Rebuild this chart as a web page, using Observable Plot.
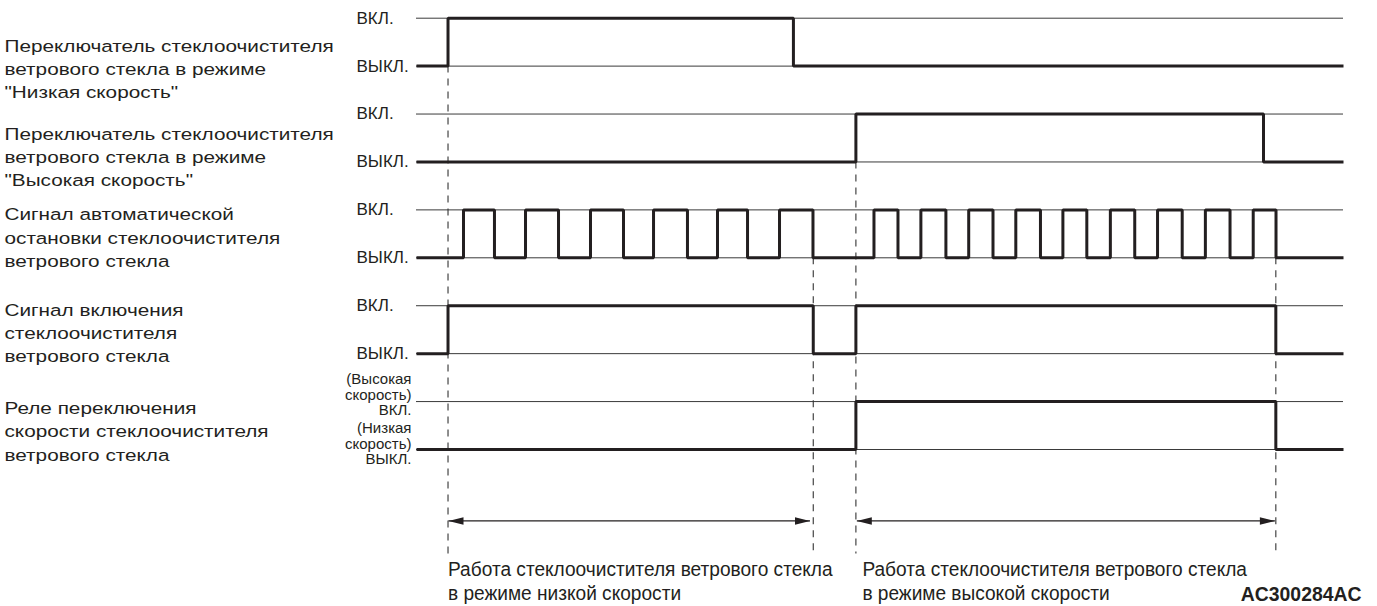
<!DOCTYPE html>
<html><head><meta charset="utf-8">
<script src="https://cdn.jsdelivr.net/npm/d3@7"></script>
<script src="https://cdn.jsdelivr.net/npm/@observablehq/plot@0.6"></script>
<style>body{margin:0;background:#fff}svg{display:block}</style>
</head><body><div id="chart"></div>
<script>
// ---- data ----
const signalNames = [
  "Переключатель стеклоочистителя\nветрового стекла в режиме\n\"Низкая скорость\"",
  "Переключатель стеклоочистителя\nветрового стекла в режиме\n\"Высокая скорость\"",
  "Сигнал автоматической\nостановки стеклоочистителя\nветрового стекла",
  "Сигнал включения\nстеклоочистителя\nветрового стекла",
  "Реле переключения\nскорости стеклоочистителя\nветрового стекла"
];
const signalLabelY = [1.03, 2.87, 4.55, 6.54, 8.59];
const onLabel = "ВКЛ.";
const offLabel = "ВЫКЛ.";
const relayOnLabel = "(Высокая\nскорость)\nВКЛ.";
const relayOffLabel = "(Низкая\nскорость)\nВЫКЛ.";
// time axis 0..100 (arbitrary units); transitions of each signal (start low)
const tStart = 0, tEnd = 100;
const transitions = [
  [3.4, 40.66],
  [47.4, 91.37],
  [5.07, 8.41, 11.76, 15.32, 18.77, 22.33, 25.57, 29.23, 32.47, 35.71, 39.16, 42.77,
   49.35, 51.94, 54.41, 57.11, 59.57, 62.19, 64.65, 67.31, 69.73, 72.31, 74.85, 77.48,
   79.94, 82.6, 85.1, 87.76, 90.26, 92.72],
  [3.4, 42.8, 47.4, 92.7],
  [47.4, 92.7]
];
const markerT = [3.4, 42.8, 47.4, 92.7];
const markerFromRow = [0, 2, 1, 2];
const dashEndY = 11.18;
const arrowStart = [3.45, 47.5];
const arrowEnd = [42.45, 92.6];
const arrowY = 10.49;
const modeLabels = [
  "Работа стеклоочистителя ветрового стекла\nв режиме низкой скорости",
  "Работа стеклоочистителя ветрового стекла\nв режиме высокой скорости"
];
const modeLabelT = [3.4, 48.1];
const modeLabelY = 11.72;
const figureId = "AC300284AC";
const figureIdY = 12.03;

// ---- derived tables ----
const yOf = (row, on) => row * 2 + (on ? 0 : 1);
const stepPts = [];
transitions.forEach((tr, row) => {
  let lvl = 0;
  stepPts.push({row, t: tStart, y: yOf(row, lvl)});
  for (const t of tr) { lvl = 1 - lvl; stepPts.push({row, t, y: yOf(row, lvl)}); }
  stepPts.push({row, t: tEnd, y: yOf(row, lvl)});
});
const refLevels = d3.range(10);
const levelLabels = [];
for (let r = 0; r < 4; r++) {
  levelLabels.push({y: yOf(r, 1), text: onLabel});
  levelLabels.push({y: yOf(r, 0), text: offLabel});
}
const relayLabels = [
  {y: 7.86, text: relayOnLabel},
  {y: 8.88, text: relayOffLabel}
];
const names = signalNames.map((text, i) => ({text, y: signalLabelY[i]}));
const markers = markerT.map((t, i) => ({t, y1: yOf(markerFromRow[i], 0)}));
const periods = arrowStart.map((a, i) => ({a, b: arrowEnd[i], label: modeLabels[i], lt: modeLabelT[i]}));

const headL = {draw(ctx, size) { const r = Math.sqrt(size / Math.PI); ctx.moveTo(0, 0); ctx.lineTo(3 * r, -0.75 * r); ctx.lineTo(3 * r, 0.75 * r); ctx.closePath(); }};
const headR = {draw(ctx, size) { const r = Math.sqrt(size / Math.PI); ctx.moveTo(0, 0); ctx.lineTo(-3 * r, -0.75 * r); ctx.lineTo(-3 * r, 0.75 * r); ctx.closePath(); }};

const ink = "#231f20";
const chart = Plot.plot({
  width: 1377, height: 606, margin: 0,
  x: {domain: [tStart, tEnd], range: [416, 1343], axis: null},
  y: {domain: [0, 9], range: [17.7, 449], axis: null},
  style: {fontFamily: "'Liberation Sans', Arial, Helvetica, sans-serif", color: ink, background: "#fff"},
  marks: [
    Plot.ruleY(refLevels, {y: d => d, x1: tStart, x2: tEnd, stroke: "#3a3a3a", strokeWidth: 1}),
    Plot.ruleX(markers, {x: "t", y1: "y1", y2: dashEndY, stroke: "#333", strokeWidth: 1.1, strokeDasharray: "7,6"}),
    Plot.line(stepPts, {x: "t", y: "y", z: "row", curve: "step-after", stroke: ink, strokeWidth: 3, strokeLinejoin: "miter", strokeLinecap: "butt"}),
    Plot.link(periods, {x1: "a", x2: "b", y1: arrowY, y2: arrowY, stroke: ink, strokeWidth: 1.4}),
    Plot.dot(periods, {x: "a", y: arrowY, symbol: headL, r: 5, fill: ink, stroke: "none"}),
    Plot.dot(periods, {x: "b", y: arrowY, symbol: headR, r: 5, fill: ink, stroke: "none"}),
    Plot.text(names, {frameAnchor: "left", dx: 4, y: "y", text: "text", textAnchor: "start", lineAnchor: "middle", lineHeight: 1.37, fontSize: 17, fill: ink, ariaDescription: "stretch"}),
    Plot.text(levelLabels, {frameAnchor: "left", dx: 356, y: "y", text: "text", textAnchor: "start", fontSize: 17, fill: ink}),
    Plot.text(relayLabels, {frameAnchor: "left", dx: 411, y: "y", text: "text", textAnchor: "end", lineAnchor: "middle", lineHeight: 1.02, fontSize: 15, fill: ink}),
    Plot.text(periods, {x: "lt", y: modeLabelY, text: "label", textAnchor: "start", lineAnchor: "middle", lineHeight: 1.15, fontSize: 21, fill: ink, ariaDescription: "narrow"}),
    Plot.text([figureId], {frameAnchor: "right", dx: -16, y: figureIdY, text: d => d, textAnchor: "end", fontSize: 20, fontWeight: "bold", fill: ink, ariaDescription: "narrowbold"})
  ]
});
const sel = d3.select(chart);
sel.selectAll("g[aria-description=stretch] text").attr("transform", function() { return this.getAttribute("transform") + " scale(1.22,1)"; });
sel.selectAll("g[aria-description=narrow] text").attr("transform", function() { return this.getAttribute("transform") + " scale(0.91,1)"; });
sel.selectAll("g[aria-description=narrowbold] text").attr("transform", function() { return this.getAttribute("transform") + " scale(0.97,1)"; });
document.getElementById("chart").appendChild(chart);
</script>
</body></html>
